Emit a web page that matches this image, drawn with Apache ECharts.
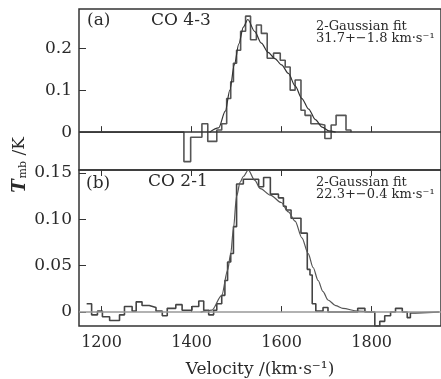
<!DOCTYPE html>
<html>
<head>
<meta charset="utf-8">
<script src="https://cdn.jsdelivr.net/npm/echarts@6/dist/echarts.min.js"></script>
<style>
  html, body { margin: 0; padding: 0; background: #fff; }
  #main { width: 441px; height: 379px; }
</style>
</head>
<body>
<div id="main"></div>
<script>
// CO 4-3 spectrum (step edges in km/s, value of each channel in K)
var co43Edges  = [1150, 1383, 1398, 1423, 1436, 1456, 1467, 1478, 1487, 1493, 1500, 1509, 1520, 1531, 1544, 1555, 1568, 1582, 1597, 1608, 1619, 1630, 1643, 1652, 1665, 1681, 1696, 1710, 1721, 1743, 1754];
var co43Values = [0, -0.07, -0.012, 0.02, -0.022, 0.005, 0.02, 0.08, 0.12, 0.164, 0.195, 0.24, 0.276, 0.22, 0.255, 0.235, 0.176, 0.188, 0.171, 0.155, 0.1, 0.124, 0.052, 0.04, 0.02, 0.017, -0.015, 0.017, 0.04, 0.005, 0];
// CO 4-3 two-gaussian fit
var co43FitV = [1440, 1460, 1475, 1485, 1495, 1505, 1515, 1525, 1540, 1555, 1570, 1585, 1600, 1615, 1630, 1645, 1660, 1675, 1690, 1705, 1720];
var co43FitT = [0, 0.01, 0.05, 0.1, 0.16, 0.21, 0.25, 0.268, 0.24, 0.212, 0.19, 0.175, 0.16, 0.14, 0.11, 0.08, 0.055, 0.03, 0.012, 0.003, 0];

// CO 2-1 spectrum
var co21Edges  = [1167, 1178, 1191, 1202, 1218, 1240, 1251, 1268, 1277, 1290, 1306, 1321, 1335, 1346, 1365, 1379, 1401, 1416, 1427, 1438, 1449, 1456, 1467, 1474, 1480, 1487, 1493, 1500, 1515, 1549, 1560, 1575, 1593, 1604, 1610, 1621, 1643, 1657, 1663, 1668, 1676, 1692, 1703, 1769, 1785, 1807, 1818, 1829, 1842, 1853, 1868, 1879, 1886, 1897, 1950];
var co21Values = [0.009, -0.003, 0.001, -0.005, -0.009, -0.003, 0.006, 0.001, 0.011, 0.007, 0.005, 0.001, -0.004, 0.004, 0.008, 0.002, 0.006, 0.012, 0.002, -0.003, 0.002, 0.009, 0.018, 0.034, 0.054, 0.063, 0.092, 0.138, 0.143, 0.135, 0.145, 0.127, 0.123, 0.114, 0.11, 0.101, 0.085, 0.046, 0.04, 0.009, 0.001, 0.005, 0, 0.004, 0, -0.015, -0.01, -0.004, 0, 0.004, 0, -0.006, -0.001, 0, 0];
// CO 2-1 two-gaussian fit
var co21FitV = [1420, 1445, 1467, 1480, 1487, 1493, 1500, 1508, 1515, 1526, 1540, 1553, 1575, 1599, 1615, 1630, 1645, 1659, 1670, 1681, 1692, 1703, 1720, 1736, 1769, 1800];
var co21FitT = [0, 0.002, 0.018, 0.045, 0.063, 0.09, 0.125, 0.14, 0.146, 0.153, 0.142, 0.133, 0.126, 0.118, 0.108, 0.098, 0.08, 0.063, 0.048, 0.034, 0.022, 0.013, 0.007, 0.004, 0.001, 0];

var xTicks = [1200, 1400, 1600, 1800];
var yTicksA = [0, 0.1, 0.2];
var yTicksB = [0, 0.05, 0.1, 0.15];

function pairs(xs, ys) {
    return xs.map(function (x, i) { return [x, ys[i]]; });
}

var serif = 'DejaVu Serif';
var ink = '#2a2a2a';

var myChart = echarts.init(document.getElementById('main'));

option = {
    animation: false,
    backgroundColor: '#fff',
    grid: [
        {left: 79, top: 9, width: 366, height: 161, show: true, borderColor: '#333', borderWidth: 1.5, backgroundColor: 'transparent'},
        {left: 79, top: 170, width: 366, height: 156, show: true, borderColor: '#333', borderWidth: 1.5, backgroundColor: 'transparent'}
    ],
    xAxis: [
        {
            gridIndex: 0, type: 'value', min: 1150, max: 1954, position: 'bottom',
            splitLine: {show: false}, axisLine: {show: false},
            axisTick: {show: true, inside: true, length: 6, customValues: xTicks, lineStyle: {color: '#333'}},
            axisLabel: {show: false}
        },
        {
            gridIndex: 1, type: 'value', min: 1150, max: 1954, position: 'bottom',
            splitLine: {show: false}, axisLine: {show: false},
            axisTick: {show: true, inside: true, length: 6, customValues: xTicks, lineStyle: {color: '#333'}},
            axisLabel: {
                customValues: xTicks, fontFamily: serif, fontSize: 16, color: ink, margin: 9,
                formatter: function (v) { return String(v); }
            },
            name: 'Velocity /(km\u00b7s\u207b\u00b9)', nameLocation: 'middle', nameGap: 35,
            nameTextStyle: {fontFamily: serif, fontSize: 17, color: ink}
        },
        {
            gridIndex: 1, type: 'value', min: 1150, max: 1954, position: 'top',
            splitLine: {show: false}, axisLine: {show: false},
            axisTick: {show: true, inside: true, length: 6, customValues: xTicks, lineStyle: {color: '#333'}},
            axisLabel: {show: false}
        }
    ],
    yAxis: [
        {
            gridIndex: 0, type: 'value', min: -0.09, max: 0.293,
            splitLine: {show: false}, axisLine: {show: false},
            axisTick: {show: true, inside: true, length: 7, customValues: yTicksA, lineStyle: {color: '#333'}},
            axisLabel: {
                customValues: yTicksA, fontFamily: serif, fontSize: 17, color: ink, margin: 7,
                formatter: function (v) { return v === 0 ? '0' : v.toFixed(1); }
            }
        },
        {
            gridIndex: 1, type: 'value', min: -0.015, max: 0.153,
            splitLine: {show: false}, axisLine: {show: false},
            axisTick: {show: true, inside: true, length: 7, customValues: yTicksB, lineStyle: {color: '#333'}},
            axisLabel: {
                customValues: yTicksB, fontFamily: serif, fontSize: 17, color: ink, margin: 7,
                formatter: function (v) { return v === 0 ? '0' : v.toFixed(2); }
            }
        }
    ],
    series: [
        {
            // CO 4-3 observed
            type: 'line', xAxisIndex: 0, yAxisIndex: 0, step: 'end', symbol: 'none',
            data: pairs(co43Edges, co43Values),
            lineStyle: {color: '#555', width: 1.6},
            markLine: {
                silent: true, symbol: 'none', label: {show: false},
                lineStyle: {color: '#333', width: 1.6, type: 'solid'},
                data: [{yAxis: 0}]
            }
        },
        {
            // CO 4-3 fit
            type: 'line', xAxisIndex: 0, yAxisIndex: 0, smooth: 0.3, smoothMonotone: 'x', symbol: 'none',
            data: pairs(co43FitV, co43FitT),
            lineStyle: {color: '#333', width: 1.2}
        },
        {
            // CO 2-1 observed
            type: 'line', xAxisIndex: 1, yAxisIndex: 1, step: 'end', symbol: 'none',
            data: pairs(co21Edges, co21Values),
            lineStyle: {color: '#444', width: 1.6},
            markLine: {
                silent: true, symbol: 'none', label: {show: false},
                lineStyle: {color: '#999', width: 1.6, type: 'solid'},
                data: [{yAxis: 0}]
            }
        },
        {
            // CO 2-1 fit
            type: 'line', xAxisIndex: 1, yAxisIndex: 1, smooth: 0.3, smoothMonotone: 'x', symbol: 'none',
            data: pairs(co21FitV, co21FitT),
            lineStyle: {color: '#555', width: 1.2}
        }
    ],
    graphic: [
        {type: 'text', left: 87, top: 12, style: {text: '(a)', font: '17px "DejaVu Serif"', fill: ink}},
        {type: 'text', left: 151, top: 12, style: {text: 'CO 4-3', font: '17px "DejaVu Serif"', fill: ink}},
        {type: 'text', left: 316, top: 20, style: {text: '2-Gaussian fit\n31.7+\u22121.8 km\u00b7s\u207b\u00b9', font: '13px "DejaVu Serif"', lineHeight: 12, fill: ink}},
        {type: 'text', left: 86, top: 175, style: {text: '(b)', font: '17px "DejaVu Serif"', fill: ink}},
        {type: 'text', left: 148, top: 173, style: {text: 'CO 2-1', font: '17px "DejaVu Serif"', fill: ink}},
        {type: 'text', left: 316, top: 176, style: {text: '2-Gaussian fit\n22.3+\u22120.4 km\u00b7s\u207b\u00b9', font: '13px "DejaVu Serif"', lineHeight: 12, fill: ink}},
        {
            type: 'text', x: 20, y: 165, rotation: Math.PI / 2,
            style: {
                text: '{t|T}{s|mb}{k| /K}',
                align: 'center', verticalAlign: 'middle',
                rich: {
                    t: {fontFamily: serif, fontStyle: 'italic', fontWeight: 'bold', fontSize: 18, fill: ink},
                    s: {fontFamily: serif, fontSize: 11, fill: ink, verticalAlign: 'bottom', padding: [0, 0, 0, 1]},
                    k: {fontFamily: serif, fontSize: 17, fill: ink}
                }
            }
        }
    ]
};

myChart.setOption(option, true);
window.addEventListener('resize', function () {
    myChart.resize();
});
</script>
</body>
</html>
